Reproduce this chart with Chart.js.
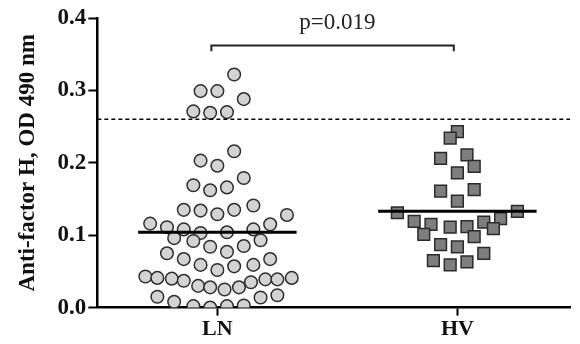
<!DOCTYPE html>
<html>
<head>
<meta charset="utf-8">
<script src="https://cdn.jsdelivr.net/npm/chart.js@4.4.1/dist/chart.umd.min.js"></script>
<style>
  html, body { margin: 0; padding: 0; background: #fff; }
  #wrap { width: 580px; height: 344px; }
</style>
</head>
<body>
<div id="wrap"><canvas id="grafico"></canvas></div>
<script>
const grupos = ['LN', 'HV']

// valores
const valoresLN = [
  0.322, 0.299, 0.299, 0.288, 0.271, 0.269, 0.270,
  0.216, 0.203, 0.196, 0.179, 0.169, 0.162, 0.166,
  0.135, 0.134, 0.129, 0.135, 0.141, 0.128,
  0.116, 0.111, 0.108, 0.103, 0.104, 0.108, 0.115,
  0.096, 0.092, 0.093, 0.084, 0.085, 0.075, 0.077,
  0.067, 0.067, 0.059, 0.057, 0.059, 0.052,
  0.043, 0.041, 0.040, 0.037, 0.030, 0.028, 0.025, 0.028, 0.035, 0.039, 0.039, 0.041,
  0.015, 0.008, 0.002, 0.000, 0.002, 0.003, 0.014, 0.017
]
// espalhamento horizontal de cada ponto (em unidades de categoria)
const espalhaLN = [
  0.07, -0.07, 0.00, 0.11, -0.10, -0.03, 0.04,
  0.07, -0.07, 0.00, 0.11, -0.10, -0.03, 0.04,
  -0.14, -0.07, 0.00, 0.07, 0.15, 0.29,
  -0.28, -0.21, -0.14, -0.07, 0.04, 0.15, 0.22,
  -0.18, -0.10, 0.18, -0.03, 0.11, -0.21, 0.04,
  -0.14, 0.22, -0.07, 0.07, 0.15, 0.00,
  -0.30, -0.25, -0.19, -0.14, -0.08, -0.03, 0.03, 0.09, 0.14, 0.20, 0.25, 0.31,
  -0.25, -0.18, -0.10, -0.03, 0.04, 0.11, 0.18, 0.25
]

const valoresHV = [
  0.243, 0.234, 0.206, 0.211, 0.195, 0.186, 0.161, 0.163, 0.147,
  0.131, 0.133, 0.123, 0.119, 0.115, 0.111, 0.112, 0.118,
  0.101, 0.098, 0.109, 0.087, 0.084, 0.075, 0.065, 0.059, 0.063
]
const espalhaHV = [
  0.00, -0.03, -0.07, 0.04, 0.07, 0.00, -0.07, 0.07, 0.00,
  -0.25, 0.25, 0.18, -0.18, -0.11, -0.03, 0.04, 0.11,
  -0.14, 0.07, 0.15, -0.07, 0.00, 0.11, -0.10, -0.03, 0.04
]

const medianas = [0.104, 0.133]
const corte = 0.26
const valorP = 'p=0.019'
const ticksY = [0.0, 0.1, 0.2, 0.3, 0.4]

const fonte = "'Liberation Serif', 'Times New Roman', serif"
const xMin = 0.5
const xMax = 2.47

function montaPontos(valores, espalha, centro) {
  return valores.map((v, i) => ({ x: centro + espalha[i], y: v }))
}

function linhaMediana(i) {
  return [{ x: i + 1 - 0.33, y: medianas[i] }, { x: i + 1 + 0.33, y: medianas[i] }]
}

const textoP = {
  id: 'textoP',
  afterDatasetsDraw(chart) {
    const ctx = chart.ctx
    const x = chart.scales.x
    const y = chart.scales.y
    ctx.save()
    ctx.fillStyle = '#222'
    ctx.font = '23px ' + fonte
    ctx.textAlign = 'center'
    ctx.textBaseline = 'alphabetic'
    ctx.fillText(valorP, x.getPixelForValue(1.5), y.getPixelForValue(0.385))
    ctx.restore()
  }
}

const grafico = new Chart(document.getElementById('grafico'), {
  type: 'scatter',
  data: {
    datasets: [
      {
        label: 'mediana LN',
        type: 'line',
        data: linhaMediana(0),
        borderColor: '#000',
        borderWidth: 3,
        pointRadius: 0,
        order: 0
      },
      {
        label: 'mediana HV',
        type: 'line',
        data: linhaMediana(1),
        borderColor: '#000',
        borderWidth: 3,
        pointRadius: 0,
        order: 0
      },
      {
        label: 'corte',
        type: 'line',
        data: [{ x: xMin, y: corte }, { x: xMax, y: corte }],
        borderColor: '#000',
        borderWidth: 1.5,
        borderDash: [4, 3],
        pointRadius: 0,
        order: 1
      },
      {
        label: 'colchete',
        type: 'line',
        data: [{ x: 0.975, y: 0.354 }, { x: 0.975, y: 0.362 }, { x: 1.985, y: 0.362 }, { x: 1.985, y: 0.354 }],
        borderColor: '#222',
        borderWidth: 2,
        pointRadius: 0,
        tension: 0,
        order: 1
      },
      {
        label: 'LN',
        data: montaPontos(valoresLN, espalhaLN, 1),
        pointStyle: 'circle',
        pointRadius: 6.3,
        backgroundColor: '#d3d3d3',
        borderColor: '#2e2e2e',
        borderWidth: 1.5,
        order: 2
      },
      {
        label: 'HV',
        data: montaPontos(valoresHV, espalhaHV, 2),
        pointStyle: 'rect',
        pointRadius: 8.3,
        backgroundColor: '#7e7e7e',
        borderColor: '#2a2a2a',
        borderWidth: 1.5,
        order: 2
      }
    ]
  },
  options: {
    responsive: true,
    maintainAspectRatio: false,
    animation: false,
    layout: { padding: { top: 18, right: 0, bottom: 0, left: 14 } },
    plugins: {
      legend: { display: false },
      tooltip: { enabled: false }
    },
    scales: {
      x: {
        type: 'linear',
        min: xMin,
        max: xMax,
        afterBuildTicks: (eixo) => { eixo.ticks = grupos.map((g, i) => ({ value: i + 1 })) },
        ticks: {
          callback: (v) => grupos[v - 1],
          color: '#111',
          font: { family: fonte, size: 22, weight: 'bold' },
          padding: 1
        },
        grid: { drawOnChartArea: false, color: '#000', tickLength: 8, tickWidth: 2 },
        border: { color: '#000', width: 2.5 }
      },
      y: {
        min: 0,
        max: 0.4,
        afterBuildTicks: (eixo) => { eixo.ticks = ticksY.map(v => ({ value: v })) },
        ticks: {
          callback: (v) => v.toFixed(1),
          color: '#111',
          font: { family: fonte, size: 23, weight: 'bold' },
          padding: 2
        },
        grid: { drawOnChartArea: false, color: '#000', tickLength: 9, tickWidth: 2 },
        border: { color: '#000', width: 2.5 },
        title: {
          display: true,
          text: 'Anti-factor H, OD 490 nm',
          color: '#111',
          font: { family: fonte, size: 23, weight: 'bold' },
          padding: { top: 0, bottom: 14 }
        }
      }
    }
  },
  plugins: [textoP]
})
</script>
</body>
</html>
